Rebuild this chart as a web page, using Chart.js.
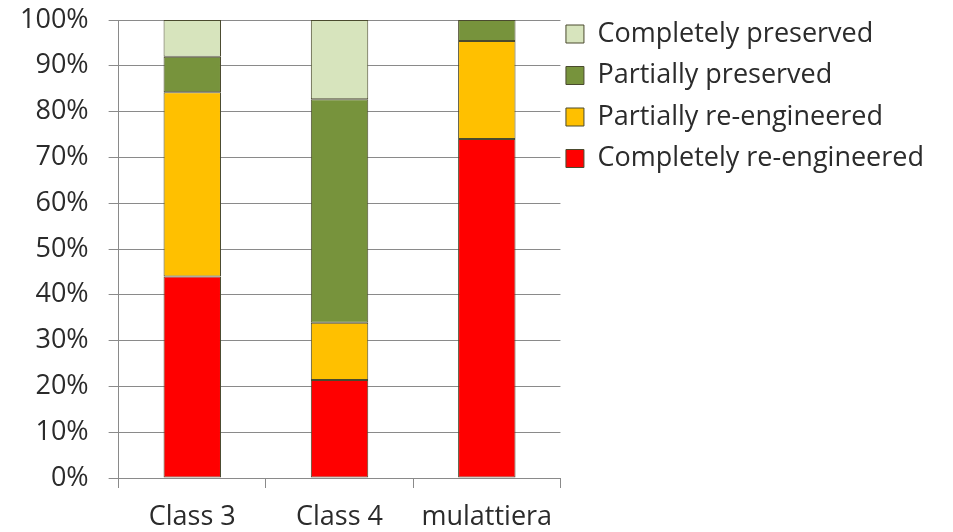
<!DOCTYPE html>
<html>
<head>
<meta charset="utf-8">
<script src="https://cdn.jsdelivr.net/npm/chart.js@4"></script>
<style>
  html, body { margin: 0; padding: 0; background: #ffffff; }
  #wrap { width: 953px; height: 532px; }
</style>
</head>
<body>
<div id="wrap"><canvas id="grafico" width="953" height="532"></canvas></div>
<script>
// categorie e percentuali per tipo di intervento
const categorie = ["Class 3", "Class 4", "mulattiera"];
const completamenteRiprogettato = [44, 21.4, 74];
const parzialmenteRiprogettato = [40.2, 12.5, 21.4];
const parzialmenteConservato = [7.8, 48.8, 4.6];
const completamenteConservato = [8, 17.3, 0];
const tickPercentuali = [0, 10, 20, 30, 40, 50, 60, 70, 80, 90, 100];

const coloreTesto = "#2b2b2b";
const coloreGriglia = "#8a8a8a";
const bordoBarre = "#4a4a2e";
const font = "'Open Sans', sans-serif";

// sposta la legenda un po' verso l'area del grafico, come nel foglio originale
const legendaVicina = {
    id: "legendaVicina",
    afterLayout(chart) {
        chart.legend.left -= 9;
        chart.legend.right -= 9;
    }
};

const ctx = document.getElementById("grafico").getContext("2d");
new Chart(ctx, {
    type: "bar",
    data: {
        labels: categorie,
        datasets: [
            { label: "Completely re-engineered", data: completamenteRiprogettato, backgroundColor: "#ff0000" },
            { label: "Partially re-engineered", data: parzialmenteRiprogettato, backgroundColor: "#ffc000" },
            { label: "Partially preserved", data: parzialmenteConservato, backgroundColor: "#77933c" },
            { label: "Completely preserved", data: completamenteConservato, backgroundColor: "#d7e4bd" }
        ].map(ds => Object.assign(ds, {
            borderColor: bordoBarre,
            borderWidth: 1,
            borderSkipped: false,
            categoryPercentage: 1,
            barPercentage: 0.39
        }))
    },
    options: {
        responsive: false,
        animation: false,
        layout: { padding: { top: 6, left: 0, right: 10, bottom: 0 } },
        plugins: {
            tooltip: { enabled: false },
            legend: {
                position: "right",
                align: "start",
                reverse: true,
                maxWidth: 420,
                labels: {
                    boxWidth: 18,
                    boxHeight: 18,
                    padding: 14.5,
                    color: coloreTesto,
                    font: { family: font, size: 27 }
                }
            }
        },
        scales: {
            x: {
                stacked: true,
                // le etichette delle categorie arrivano fino al bordo inferiore
                afterFit(scale) {
                    scale.height = 54;
                },
                grid: {
                    display: true,
                    drawOnChartArea: false,
                    tickLength: 10,
                    color: coloreGriglia
                },
                border: { color: coloreGriglia },
                ticks: {
                    color: coloreTesto,
                    padding: 14,
                    font: { family: font, size: 27, lineHeight: 1.11 }
                }
            },
            y: {
                stacked: true,
                min: 0,
                max: 100,
                afterBuildTicks(scale) {
                    scale.ticks = tickPercentuali.map(v => ({ value: v }));
                },
                grid: {
                    color: coloreGriglia,
                    tickLength: 10
                },
                border: { color: coloreGriglia },
                ticks: {
                    color: coloreTesto,
                    padding: 20,
                    // altezza di riga nulla: l'etichetta 100% non spinge giù l'area del grafico
                    font: { family: font, size: 27, lineHeight: "0px" },
                    callback: v => v + "%"
                }
            }
        }
    },
    plugins: [legendaVicina]
});
</script>
</body>
</html>
